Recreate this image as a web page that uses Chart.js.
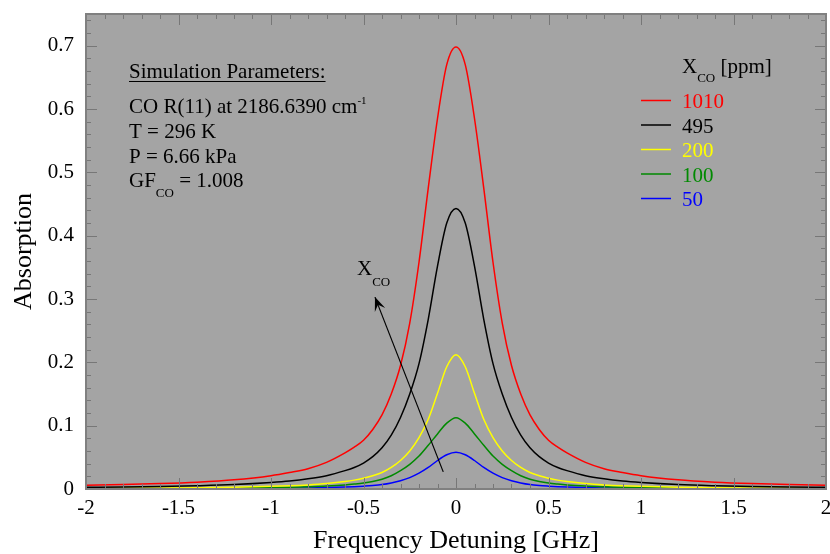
<!DOCTYPE html>
<html>
<head>
<meta charset="utf-8">
<script src="https://cdn.jsdelivr.net/npm/chart.js@4.4.1/dist/chart.umd.min.js"></script>
<style>
  html, body { margin: 0; padding: 0; background: #ffffff; }
  #wrap { width: 830px; height: 554px; }
</style>
</head>
<body>
<div id="wrap"><canvas id="c" width="830" height="554"></canvas></div>
<script>
// Frequency detuning grid [GHz]
const detuning = [-2, -1.8, -1.6, -1.4, -1.2, -1.0, -0.9, -0.8, -0.7, -0.6, -0.55, -0.5, -0.45, -0.4, -0.35, -0.3, -0.25, -0.2, -0.15, -0.1, -0.05,
                  0,
                  0.05, 0.1, 0.15, 0.2, 0.25, 0.3, 0.35, 0.4, 0.45, 0.5, 0.55, 0.6, 0.7, 0.8, 0.9, 1.0, 1.2, 1.4, 1.6, 1.8, 2];

// CO mole fractions [ppm]
const moleFractions = ['1010', '495', '200', '100', '50'];

// Absorption profiles for each mole fraction
const abs1010 = [0.0060, 0.0070, 0.0085, 0.0108, 0.0145, 0.0210, 0.0260, 0.0320, 0.0420, 0.0570, 0.0660, 0.0770, 0.0940, 0.1170, 0.1500, 0.1950, 0.2620, 0.3580, 0.4750, 0.5850, 0.6700,
                 0.6980,
                 0.6700, 0.5850, 0.4750, 0.3580, 0.2620, 0.1950, 0.1500, 0.1170, 0.0940, 0.0770, 0.0660, 0.0570, 0.0420, 0.0320, 0.0260, 0.0210, 0.0145, 0.0108, 0.0085, 0.0070, 0.0060];
const abs495  = [0.0026, 0.0032, 0.0040, 0.0052, 0.0070, 0.0102, 0.0125, 0.0160, 0.0210, 0.0290, 0.0340, 0.0410, 0.0510, 0.0650, 0.0850, 0.1130, 0.1500, 0.1980, 0.2680, 0.3520, 0.4200,
                 0.4430,
                 0.4200, 0.3520, 0.2680, 0.1980, 0.1500, 0.1130, 0.0850, 0.0650, 0.0510, 0.0410, 0.0340, 0.0290, 0.0210, 0.0160, 0.0125, 0.0102, 0.0070, 0.0052, 0.0040, 0.0032, 0.0026];
const abs200  = [0.0011, 0.0013, 0.0016, 0.0021, 0.0029, 0.0042, 0.0051, 0.0065, 0.0086, 0.0118, 0.0140, 0.0170, 0.0210, 0.0260, 0.0340, 0.0450, 0.0600, 0.0810, 0.1100, 0.1510, 0.1930,
                 0.2120,
                 0.1930, 0.1510, 0.1100, 0.0810, 0.0600, 0.0450, 0.0340, 0.0260, 0.0210, 0.0170, 0.0140, 0.0118, 0.0086, 0.0065, 0.0051, 0.0042, 0.0029, 0.0021, 0.0016, 0.0013, 0.0011];
const abs100  = [0.0006, 0.0007, 0.0009, 0.0011, 0.0015, 0.0022, 0.0027, 0.0035, 0.0046, 0.0064, 0.0078, 0.0095, 0.0120, 0.0155, 0.0210, 0.0290, 0.0390, 0.0520, 0.0690, 0.0870, 0.1040,
                 0.1125,
                 0.1040, 0.0870, 0.0690, 0.0520, 0.0390, 0.0290, 0.0210, 0.0155, 0.0120, 0.0095, 0.0078, 0.0064, 0.0046, 0.0035, 0.0027, 0.0022, 0.0015, 0.0011, 0.0009, 0.0007, 0.0006];
const abs50   = [0.0003, 0.00036, 0.00045, 0.00058, 0.0008, 0.0011, 0.0014, 0.0017, 0.0023, 0.0031, 0.0037, 0.0045, 0.0055, 0.0070, 0.0095, 0.0130, 0.0180, 0.0250, 0.0340, 0.0450, 0.0540,
                 0.0580,
                 0.0540, 0.0450, 0.0340, 0.0250, 0.0180, 0.0130, 0.0095, 0.0070, 0.0055, 0.0045, 0.0037, 0.0031, 0.0023, 0.0017, 0.0014, 0.0011, 0.0008, 0.00058, 0.00045, 0.00036, 0.0003];

// Axis tick labels
const xTicks = [-2, -1.5, -1, -0.5, 0, 0.5, 1, 1.5, 2];
const yTicks = [0, 0.1, 0.2, 0.3, 0.4, 0.5, 0.6, 0.7];

const SERIF = '"Liberation Serif", "Times New Roman", Times, serif';
const seriesColors = ['#ff0000', '#000000', '#ffff00', '#008a00', '#0000ff'];
const seriesValues = [abs1010, abs495, abs200, abs100, abs50];

const datasets = moleFractions.map((label, k) => ({
  label: label,
  data: detuning.map((x, i) => ({ x: x, y: seriesValues[k][i] })),
  borderColor: seriesColors[k],
  borderWidth: 1.5,
  pointRadius: 0,
  fill: false,
  cubicInterpolationMode: 'monotone'
}));

// Draw text made of runs with different sizes / baseline shifts (sub- and superscripts)
function drawRuns(ctx, x, y, runs, color) {
  ctx.fillStyle = color || '#000';
  ctx.textBaseline = 'alphabetic';
  ctx.textAlign = 'left';
  for (const [text, size, dy] of runs) {
    ctx.font = size + 'px ' + SERIF;
    ctx.fillText(text, x, y + dy);
    x += ctx.measureText(text).width;
  }
  return x;
}

const plotBackground = {
  id: 'plotBackground',
  beforeDraw(chart) {
    const { ctx, chartArea: a } = chart;
    ctx.save();
    ctx.fillStyle = '#a4a4a4';
    ctx.fillRect(a.left, a.top, a.right - a.left, a.bottom - a.top);
    ctx.restore();
  }
};

// Frame with inward major/minor ticks on all four sides
const frameTicks = {
  id: 'frameTicks',
  afterDatasetsDraw(chart) {
    const { ctx, chartArea: a, scales: { x, y } } = chart;
    ctx.save();
    ctx.strokeStyle = '#777777';
    ctx.lineWidth = 1;
    const seg = (x1, y1, x2, y2) => { ctx.beginPath(); ctx.moveTo(x1, y1); ctx.lineTo(x2, y2); ctx.stroke(); };
    for (let i = -20; i <= 20; i++) {
      const px = Math.round(x.getPixelForValue(i / 10)) + 0.5;
      const len = (i % 5 === 0) ? 11 : 5;
      seg(px, a.bottom, px, a.bottom - len);
      seg(px, a.top, px, a.top + len);
    }
    for (let j = 0; j <= 37; j++) {
      const py = Math.round(y.getPixelForValue(j * 0.02)) + 0.5;
      const len = (j % 5 === 0) ? 11 : 5;
      seg(a.left, py, a.left + len, py);
      seg(a.right, py, a.right - len, py);
    }
    ctx.strokeStyle = '#808080';
    ctx.lineWidth = 2;
    ctx.strokeRect(a.left, a.top, a.right - a.left, a.bottom - a.top);
    ctx.restore();
  }
};

// Parameter box, legend and the arrow indicating increasing mole fraction
const annotations = {
  id: 'annotations',
  afterDraw(chart) {
    const { ctx, scales: { x, y } } = chart;
    ctx.save();

    // Simulation parameters
    const tx = 129;
    const endX = drawRuns(ctx, tx, 78, [['Simulation Parameters:', 21, 0]]);
    ctx.strokeStyle = '#000'; ctx.lineWidth = 1.2;
    ctx.beginPath(); ctx.moveTo(tx, 81.5); ctx.lineTo(endX, 81.5); ctx.stroke();
    drawRuns(ctx, tx, 113, [['CO R(11) at 2186.6390 cm', 21, 0], ['-1', 11, -9]]);
    drawRuns(ctx, tx, 138, [['T = 296 K', 21, 0]]);
    drawRuns(ctx, tx, 163, [['P = 6.66 kPa', 21, 0]]);
    drawRuns(ctx, tx, 187, [['GF', 21, 0], ['CO', 13, 10], [' = 1.008', 21, 0]]);

    // Legend
    const lx = 682;
    drawRuns(ctx, lx, 73, [['X', 21, 0], ['CO', 13, 9], [' [ppm]', 21, 0]]);
    chart.data.datasets.forEach((ds, k) => {
      const by = 108 + k * 24.5;
      ctx.strokeStyle = ds.borderColor; ctx.lineWidth = 1.5;
      ctx.beginPath(); ctx.moveTo(641, by - 7.5); ctx.lineTo(671, by - 7.5); ctx.stroke();
      drawRuns(ctx, lx, by, [[ds.label, 21, 0]], ds.borderColor);
    });

    // Arrow
    const x0 = x.getPixelForValue(-0.069), y0 = y.getPixelForValue(0.027);
    const x1 = x.getPixelForValue(-0.438), y1 = y.getPixelForValue(0.303);
    ctx.strokeStyle = '#000'; ctx.fillStyle = '#000'; ctx.lineWidth = 1.2;
    ctx.beginPath(); ctx.moveTo(x0, y0); ctx.lineTo(x1, y1); ctx.stroke();
    const ang = Math.atan2(y1 - y0, x1 - x0);
    const hl = 15, hw = 0.38;
    ctx.beginPath();
    ctx.moveTo(x1, y1);
    ctx.lineTo(x1 - hl * Math.cos(ang - hw), y1 - hl * Math.sin(ang - hw));
    ctx.lineTo(x1 - 0.55 * hl * Math.cos(ang), y1 - 0.55 * hl * Math.sin(ang));
    ctx.lineTo(x1 - hl * Math.cos(ang + hw), y1 - hl * Math.sin(ang + hw));
    ctx.closePath(); ctx.fill();
    drawRuns(ctx, 357, 275, [['X', 21, 0], ['CO', 13, 11]]);

    ctx.restore();
  }
};

new Chart(document.getElementById('c'), {
  type: 'line',
  data: { datasets: datasets },
  plugins: [plotBackground, frameTicks, annotations],
  options: {
    responsive: false,
    animation: false,
    devicePixelRatio: 1,
    layout: { padding: { top: 14, right: 4, bottom: 0, left: 0 } },
    plugins: { legend: { display: false }, tooltip: { enabled: false } },
    scales: {
      x: {
        type: 'linear',
        min: -2, max: 2,
        border: { display: false },
        grid: { display: false, drawTicks: false },
        afterBuildTicks: s => { s.ticks = xTicks.map(v => ({ value: v })); },
        afterFit: s => { s.height = 65; s.paddingLeft = 0; s.paddingRight = 0; },
        ticks: {
          color: '#000', padding: 7, maxRotation: 0, autoSkip: false,
          font: { family: SERIF, size: 21 },
          callback: v => String(v)
        },
        title: {
          display: true, text: 'Frequency Detuning [GHz]', color: '#000',
          font: { family: SERIF, size: 26, lineHeight: 1 },
          padding: { top: 0, bottom: 0 }
        }
      },
      y: {
        type: 'linear',
        min: 0, max: 0.75,
        border: { display: false },
        grid: { display: false, drawTicks: false },
        afterBuildTicks: s => { s.ticks = yTicks.map(v => ({ value: v })); },
        afterFit: s => { s.width = 86; s.paddingTop = 0; s.paddingBottom = 0; },
        ticks: {
          color: '#000', padding: 12, autoSkip: false,
          font: { family: SERIF, size: 21 },
          callback: v => String(v)
        },
        title: {
          display: true, text: 'Absorption', color: '#000',
          font: { family: SERIF, size: 26, lineHeight: 1 },
          padding: { top: 11, bottom: 0 }
        }
      }
    }
  }
});
</script>
</body>
</html>
